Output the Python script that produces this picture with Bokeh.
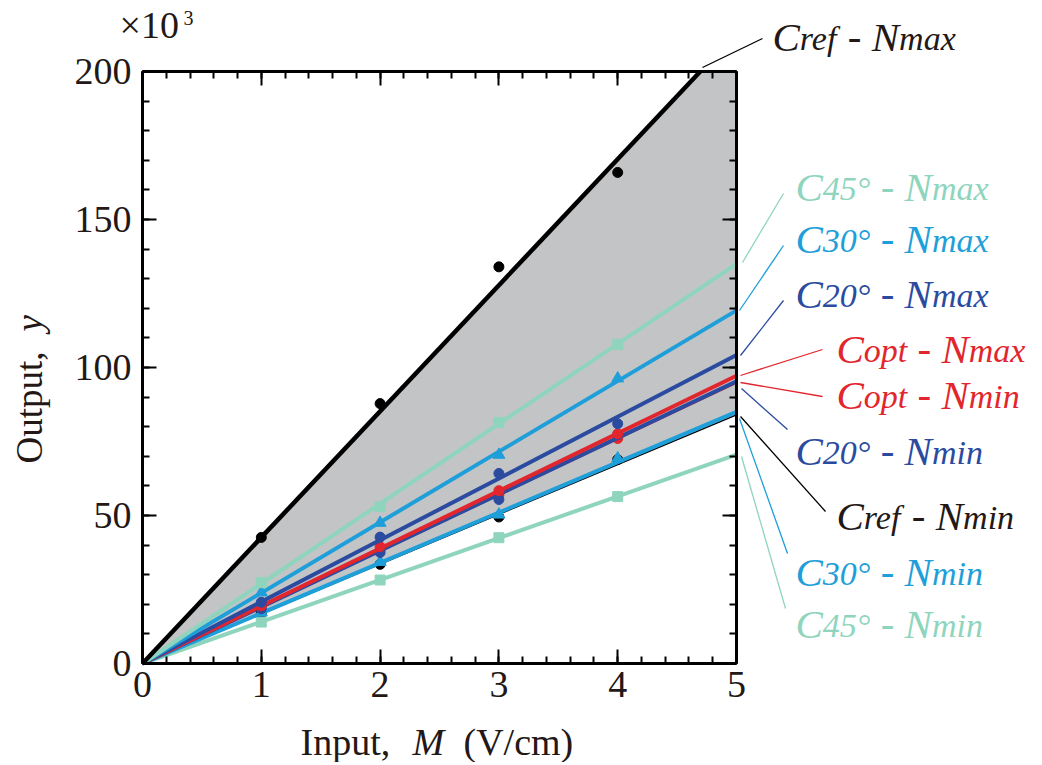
import math
from bokeh.plotting import figure
from bokeh.models import (Range1d, LinearAxis, Label, BoxAnnotation,
                          SingleIntervalTicker, CustomJSTickFormatter)
from bokeh.embed import file_html
from bokeh.resources import INLINE

# ---------------- data (values in units of 10^3) ----------------
x_pts = [1, 2, 3, 4]
x_fit = [0, 5]

cref_nmax = [42.6, 87.8, 134.0, 165.9]
cref_nmin = [17.0, 33.5, 49.5, 68.9]
c45_nmax = [27.3, 53.0, 81.4, 107.8]
c45_nmin = [14.0, 28.2, 42.5, 56.4]
c30_nmax = [24.0, 47.5, 70.5, 96.3]
c30_nmin = [17.2, 34.3, 50.3, 69.3]
c20_nmax = [20.7, 42.7, 64.2, 81.0]
c20_nmin = [18.5, 37.5, 55.4, 77.3]
copt_nmax = [19.5, 39.5, 58.4, 77.6]
copt_nmin = [19.0, 38.5, 57.0, 76.0]

# fitted lines through the origin (value at x=0 and at x=5)
cref_nmax_fit = [0, 213.0]
cref_nmin_fit = [0, 84.0]
c45_nmax_fit = [0, 135.0]
c45_nmin_fit = [0, 70.6]
c30_nmax_fit = [0, 119.3]
c30_nmin_fit = [0, 85.0]
c20_nmax_fit = [0, 104.2]
c20_nmin_fit = [0, 95.3]
copt_nmax_fit = [0, 97.2]
copt_nmin_fit = [0, 94.7]

X_MIN, X_MAX = 0, 5
Y_MIN, Y_MAX = 0, 200
x_ticks_major = 1
y_ticks_major = 50

# ---------------- styles ----------------
BLACK = "#000000"
TXT_BLACK = "#231815"
GREEN = "#8fd5bd"
BLUE = "#1f9fd9"
NAVY = "#2a4b9f"
RED = "#e2262d"
GRAY = "#c3c4c6"
FONT = "Liberation Serif"

W, H = 1034, 762
# plot box in canvas pixels
BL, BT, BR, BB = 142, 71, 736, 663
BASE_SHIFT = 0.34   # Label baseline correction (fraction of font size)


def xd(px):
    return X_MIN + (px - BL) / (BR - BL) * (X_MAX - X_MIN)


def yd(py):
    return Y_MIN + (BB - py) / (BB - BT) * (Y_MAX - Y_MIN)


p = figure(width=W, height=H,
           x_range=Range1d(xd(0), xd(W)), y_range=Range1d(yd(H), yd(0)),
           output_backend="svg", toolbar_location=None,
           x_axis_location=None, y_axis_location=None,
           min_border=0, min_border_left=0, min_border_right=0,
           min_border_top=0, min_border_bottom=0)
p.grid.visible = False
p.background_fill_color = "white"
p.border_fill_color = "white"
p.outline_line_color = None

bottom_ax = LinearAxis(fixed_location=Y_MIN, bounds=(X_MIN, X_MAX))
top_ax = LinearAxis(fixed_location=Y_MAX, bounds=(X_MIN, X_MAX))
left_ax = LinearAxis(fixed_location=X_MIN, bounds=(Y_MIN, Y_MAX))
right_ax = LinearAxis(fixed_location=X_MAX, bounds=(Y_MIN, Y_MAX))
p.add_layout(bottom_ax, "below")
p.add_layout(top_ax, "above")
p.add_layout(left_ax, "left")
p.add_layout(right_ax, "right")

for ax in [bottom_ax, top_ax]:
    ax.ticker = SingleIntervalTicker(interval=x_ticks_major, num_minor_ticks=5)
for ax in [left_ax, right_ax]:
    ax.ticker = SingleIntervalTicker(interval=y_ticks_major, num_minor_ticks=5)
for ax in [bottom_ax, top_ax, left_ax, right_ax]:
    ax.axis_line_width = 3
    ax.major_tick_in = 14
    ax.major_tick_out = 0
    ax.minor_tick_in = 7
    ax.minor_tick_out = 0
    ax.major_tick_line_width = 2
    ax.minor_tick_line_width = 2
    ax.major_label_text_font = FONT
    ax.major_label_text_font_size = "38px"
    ax.major_label_text_color = TXT_BLACK
for ax in [top_ax, right_ax]:
    ax.formatter = CustomJSTickFormatter(code="return ''")
    ax.major_label_text_font_size = "0px"
bottom_ax.major_label_standoff = 8
left_ax.major_label_standoff = 11


def clipped(fit):
    """x, y of a fitted line from the origin, cut at the top of the box."""
    slope = fit[1] / x_fit[1]
    if fit[1] > Y_MAX:
        return [x_fit[0], Y_MAX / slope], [fit[0], Y_MAX]
    return list(x_fit), list(fit)


# gray band between the reference lines
xs_top, ys_top = clipped(cref_nmax_fit)
band_x = [x_fit[0], xs_top[1], x_fit[1]]
lo_slope = cref_nmin_fit[1] / x_fit[1]
hi_slope = cref_nmax_fit[1] / x_fit[1]
band_lo = [lo_slope * v for v in band_x]
band_hi = [min(hi_slope * v, Y_MAX) for v in band_x]
p.varea(x=band_x, y1=band_lo, y2=band_hi, fill_color=GRAY)

series = [
    # key, sub, nsub, color, marker, size, line width, points, fit
    ("cref_nmin", "ref", "min", BLACK, "circle", 10, 1.5, cref_nmin, cref_nmin_fit),
    ("c45_nmin", "45°", "min", GREEN, "square", 10, 4, c45_nmin, c45_nmin_fit),
    ("c30_nmin", "30°", "min", BLUE, "triangle", 12, 4, c30_nmin, c30_nmin_fit),
    ("copt_nmin", "opt", "min", RED, "circle", 10, 1.5, copt_nmin, copt_nmin_fit),
    ("c20_nmin", "20°", "min", NAVY, "circle", 10, 4, c20_nmin, c20_nmin_fit),
    ("copt_nmax", "opt", "max", RED, "circle", 10, 4, copt_nmax, copt_nmax_fit),
    ("c20_nmax", "20°", "max", NAVY, "circle", 10, 4, c20_nmax, c20_nmax_fit),
    ("c30_nmax", "30°", "max", BLUE, "triangle", 12, 4, c30_nmax, c30_nmax_fit),
    ("c45_nmax", "45°", "max", GREEN, "square", 10, 4, c45_nmax, c45_nmax_fit),
    ("cref_nmax", "ref", "max", BLACK, "circle", 10, 4.5, cref_nmax, cref_nmax_fit),
]

for key, sub, nsub, col, mk, sz, lw, pts, fit in series:
    lx, ly = clipped(fit)
    p.line(x=lx, y=ly, line_color=col, line_width=lw)
    p.scatter(x=x_pts, y=pts, marker=mk, size=sz, fill_color=col, line_color=col)

p.add_layout(BoxAnnotation(left=X_MIN, right=X_MAX, bottom=Y_MIN, top=Y_MAX,
                           fill_alpha=0, line_color=BLACK, line_width=3,
                           level="overlay"))

# ---------------- annotation labels ----------------
ITW = {"C": 0.667, "N": 0.667, "r": 0.389, "e": 0.444, "f": 0.278, "o": 0.5,
       "p": 0.5, "t": 0.278, "m": 0.722, "a": 0.5, "x": 0.444, "i": 0.278,
       "n": 0.5, "°": 0.4, "2": 0.5, "3": 0.5, "4": 0.5, "5": 0.5, "0": 0.5}


def twidth(s, size):
    return sum(ITW.get(ch, 0.5) for ch in s) * size


def put(px, py, text, size, color, italic=False, angle=0.0):
    # px, py: left end of the text baseline in canvas pixels
    shift = BASE_SHIFT * size
    px -= shift * math.sin(angle)
    py -= shift * math.cos(angle)
    p.add_layout(Label(x=xd(px), y=yd(py), text=text, text_font=FONT,
                       text_font_size=f"{size}px",
                       text_font_style="italic" if italic else "normal",
                       text_color=color, text_align="left",
                       text_baseline="alphabetic", angle=angle))


def conn(x0, y0, x1, y1, color):
    p.line(x=[xd(x0), xd(x1)], y=[yd(y0), yd(y1)], line_color=color,
           line_width=1.3)


BIG, SMALL = 41, 34
label_layout = {
    # key: text x, baseline y, connector (canvas pixels)
    "cref_nmax": (772, 50, (702, 67, 762, 38)),
    "c45_nmax": (795, 200, (742, 262, 783, 193)),
    "c30_nmax": (795, 252, (739, 310, 783, 245)),
    "c20_nmax": (795, 307, (740, 355, 783, 300)),
    "copt_nmax": (836, 362, (740, 375, 822, 349)),
    "copt_nmin": (836, 408, (740, 382, 822, 396)),
    "c20_nmin": (795, 464, (741, 388, 787, 429)),
    "cref_nmin": (836, 529, (740, 416, 825, 511)),
    "c30_nmin": (795, 585, (739, 418, 787, 553)),
    "c45_nmin": (795, 637, (741, 456, 785, 608)),
}

for key, sub, nsub, col, mk, sz, lw, pts, fit in series:
    tx, ty, (a, b, c, d) = label_layout[key]
    tcol = TXT_BLACK if col == BLACK else col
    conn(a, b, c, d, col)
    x = tx
    put(x, ty, "C", BIG, tcol, True)
    x += twidth("C", BIG)
    put(x, ty, sub, SMALL, tcol, True)
    x += twidth(sub, SMALL)
    put(x + 0.25 * BIG, ty, "-", BIG, tcol, False)
    x += 0.833 * BIG
    put(x, ty, "N", BIG, tcol, True)
    x += twidth("N", BIG)
    put(x, ty, nsub, SMALL, tcol, True)

# axis titles and multiplier
put(300, 754, "Input,", 38, TXT_BLACK)
put(412, 754, "M", 38, TXT_BLACK, True)
put(463, 754, "(V/cm)", 38, TXT_BLACK)
put(42, 463, "Output,", 37, TXT_BLACK, angle=math.pi / 2)
put(42, 331, "y", 37, TXT_BLACK, True, angle=math.pi / 2)
put(119, 37, "×10", 38, TXT_BLACK)
put(183, 24, "3", 20, TXT_BLACK)

open("out.html", "w").write(file_html(p, INLINE))
